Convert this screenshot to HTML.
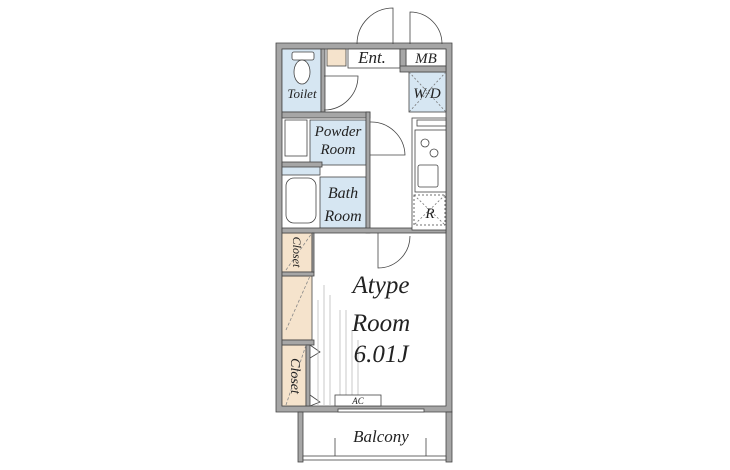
<!DOCTYPE html><html><head><style>body{margin:0;background:#fff}svg{display:block}text{font-family:"Liberation Serif",serif;font-style:italic;fill:#222}</style></head><body>
<svg width="730" height="470" viewBox="0 0 730 470">
<g stroke="#444" stroke-width="0.8">
<path d="M276 43H452V412H276Z M282 49V406H446V49Z" fill="#a6a6a6" fill-rule="evenodd"/>
<rect x="282" y="49" width="39" height="63" fill="#d6e6f2"/>
<rect x="327" y="49" width="19" height="17" fill="#f5e3cc"/>
<rect x="348" y="49" width="52" height="19" fill="#fff"/>
<rect x="406" y="49" width="40" height="17" fill="#fff"/>
<rect x="409" y="72" width="37" height="40" fill="#d6e6f2"/>
<rect x="310" y="120" width="56" height="45" fill="#d6e6f2"/>
<rect x="282" y="165" width="38" height="10" fill="#d6e6f2"/>
<rect x="320" y="177" width="46" height="51" fill="#d6e6f2"/>
<rect x="282" y="233" width="30" height="39" fill="#f5e3cc"/>
<rect x="282" y="276" width="30" height="64" fill="#f5e3cc"/>
<rect x="282" y="345" width="24" height="61" fill="#f5e3cc"/>
<rect x="321" y="49" width="4" height="63" fill="#a6a6a6"/>
<rect x="282" y="112" width="88" height="6" fill="#a6a6a6"/>
<rect x="366" y="112" width="4" height="121" fill="#a6a6a6"/>
<rect x="282" y="162" width="40" height="5" fill="#a6a6a6"/>
<rect x="282" y="228" width="164" height="5" fill="#a6a6a6"/>
<rect x="400" y="49" width="6" height="19" fill="#a6a6a6"/>
<rect x="400" y="66" width="46" height="6" fill="#a6a6a6"/>
<rect x="282" y="272" width="32" height="4" fill="#a6a6a6"/>
<rect x="282" y="340" width="32" height="5" fill="#a6a6a6"/>
<rect x="306" y="345" width="4" height="61" fill="#a6a6a6"/>
<rect x="312" y="233" width="2" height="39" fill="#a6a6a6"/>
<rect x="412" y="118" width="34" height="112" fill="#fff"/>
<rect x="417" y="120" width="29" height="6" fill="#fff"/>
<rect x="415" y="130" width="31" height="62" fill="#fff"/>
<circle cx="425" cy="143" r="4" fill="#fff"/><circle cx="434" cy="153" r="4" fill="#fff"/>
<rect x="418" y="165" width="20" height="22" rx="2" fill="#fff"/>
<rect x="414" y="195" width="31" height="30" fill="none" stroke-dasharray="2 2"/>
<path d="M414 195L445 225M445 195L414 225M409 72L446 112M446 72L409 112" stroke-dasharray="2 2" stroke="#777"/>
<rect x="292" y="52" width="22" height="8" rx="2" fill="#fff"/>
<ellipse cx="302" cy="72" rx="8" ry="12" fill="#fff"/>
<rect x="286" y="178" width="30" height="45" rx="8" fill="#fff"/>
<rect x="285" y="120" width="22" height="36" fill="#fff"/>
<g fill="none">
<path d="M393 44V8A36 36 0 0 0 357 44"/>
<path d="M410 44V12A32 32 0 0 1 442 44"/>
<path d="M324 76H358A34 34 0 0 1 324 110"/>
<path d="M370 155H405A34 34 0 0 0 370 122"/>
<path d="M378 233V268A32 32 0 0 0 410 236"/>
<path d="M310 345L320 352L310 358M310 395L320 402L310 406"/>
<path d="M286 330L310 276M286 405L306 345M286 270L312 233" stroke-dasharray="3 2" stroke="#888"/>
</g>
<g stroke="#bbb"><path d="M318 300V406M324 285V406M330 295V406M340 310V406M346 310V406M352 330V406M358 340V406"/></g>
<rect x="335" y="395" width="46" height="11" fill="#fff"/>
<rect x="298" y="412" width="5" height="50" fill="#a6a6a6"/>
<rect x="446" y="412" width="6" height="50" fill="#a6a6a6"/>
<rect x="303" y="456" width="143" height="4" fill="#fff"/>
<path d="M335 456V438M426 456V438" fill="none"/>
<rect x="338" y="409" width="86" height="3" fill="#fff"/>
</g>
<text x="372" y="63" font-size="17" text-anchor="middle">Ent.</text>
<text x="426" y="63" font-size="15" text-anchor="middle">MB</text>
<text x="427" y="98" font-size="15" text-anchor="middle">W/D</text>
<text x="302" y="98" font-size="13" text-anchor="middle">Toilet</text>
<text x="338" y="136" font-size="15" text-anchor="middle">Powder</text>
<text x="338" y="154" font-size="15" text-anchor="middle">Room</text>
<text x="343" y="198" font-size="16" text-anchor="middle">Bath</text>
<text x="343" y="221" font-size="16" text-anchor="middle">Room</text>
<text x="430" y="218" font-size="15" text-anchor="middle">R</text>
<text x="381" y="293" font-size="25" text-anchor="middle">Atype</text>
<text x="381" y="331" font-size="25" text-anchor="middle">Room</text>
<text x="381" y="362" font-size="25" text-anchor="middle">6.01J</text>
<text x="358" y="404" font-size="9" text-anchor="middle">AC</text>
<text x="381" y="442" font-size="17" text-anchor="middle">Balcony</text>
<text font-size="12" transform="translate(293,252) rotate(90)" text-anchor="middle">Closet</text>
<text font-size="14" transform="translate(291,376) rotate(90)" text-anchor="middle">Closet</text>
</svg>
</body></html>
